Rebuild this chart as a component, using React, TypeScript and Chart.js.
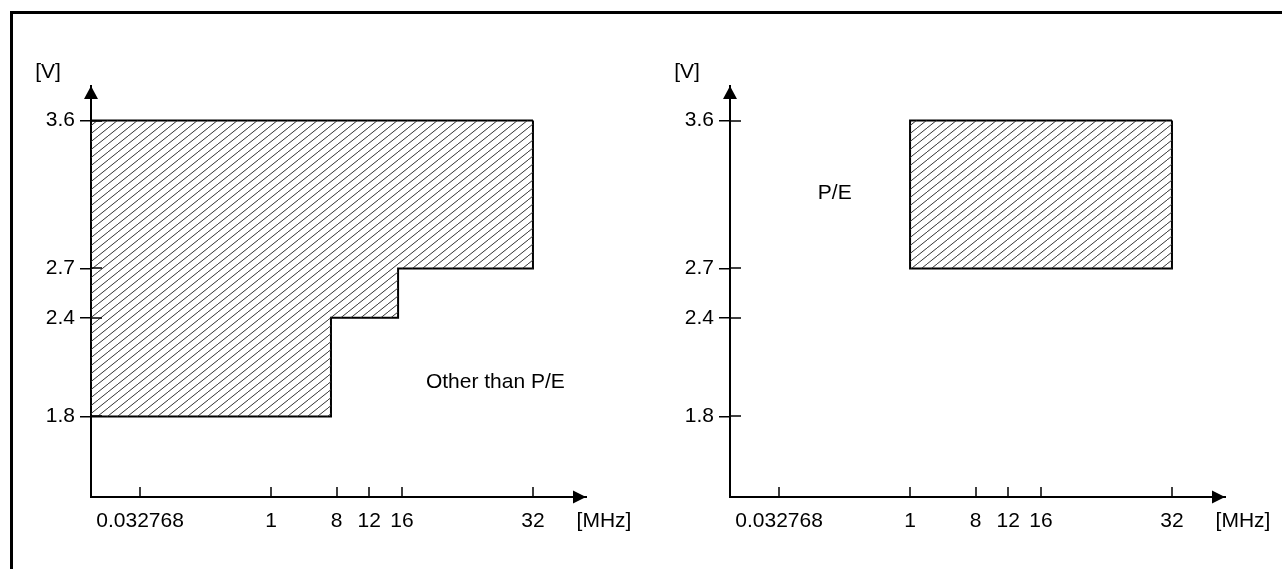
import React, { useEffect, useRef } from 'react';
import { Chart, registerables } from 'chart.js';

Chart.register(...registerables);

// ---- data ----
// The frequency axis of the diagram is not to scale: each tick has its own axis position.
const freqTickLabels = ['0.032768', '1', '8', '12', '16', '32'];
const freqTickPos = [0, 4, 6, 7, 8, 12];
const voltTicks = [1.8, 2.4, 2.7, 3.6];
const xAxisRange = [-1.5, 13.62];
const yAxisRange = [1.31, 3.81];

// Left diagram: operating area other than P/E (x = axis position, y = volts)
const otherAreaX = [12, 12, 7.88, 7.88, 5.83, 5.83, -1.5, -1.5];
const otherAreaV = [3.6, 2.7, 2.7, 2.4, 2.4, 1.8, 1.8, 3.6];
// Right diagram: P/E operating area
const peAreaX = [12, 12, 4, 4];
const peAreaV = [3.6, 2.7, 2.7, 3.6];

const otherNote = { text: 'Other than P/E', x: 8.73, v: 2.01, align: 'left' };
const peNote = { text: 'P/E', x: 1.7, v: 3.16, align: 'center' };
const xUnit = '[MHz]';
const yUnit = '[V]';

const FONT = "'Liberation Sans', Arial, Helvetica, sans-serif";
const FONT_SIZE = 21;

function makeHatch(ctx: CanvasRenderingContext2D) {
  const w = 10;
  const h = 8;
  const tile = document.createElement('canvas');
  tile.width = w;
  tile.height = h;
  const g = tile.getContext('2d')!;
  g.strokeStyle = '#333';
  g.lineWidth = 1;
  g.beginPath();
  for (const dx of [-w, 0, w]) {
    g.moveTo(dx, h);
    g.lineTo(dx + w, 0);
  }
  g.stroke();
  return ctx.createPattern(tile, 'repeat');
}

const decorPlugin = {
  id: 'diagramDecor',
  afterDraw(chart: any, _args: any, opts: any) {
    const { ctx, chartArea: a, scales } = chart;
    const xs = scales.x;
    const ys = scales.y;
    ctx.save();
    ctx.strokeStyle = '#000';
    ctx.fillStyle = '#000';
    ctx.lineWidth = 1.5;
    ctx.beginPath();
    for (const v of voltTicks) {
      const py = Math.round(ys.getPixelForValue(v));
      ctx.moveTo(a.left, py);
      ctx.lineTo(a.left + 11, py);
    }
    for (const p of freqTickPos) {
      const px = Math.round(xs.getPixelForValue(p));
      ctx.moveTo(px, a.bottom);
      ctx.lineTo(px, a.bottom - 10);
    }
    ctx.stroke();
    // arrow heads
    ctx.beginPath();
    ctx.moveTo(a.left, a.top);
    ctx.lineTo(a.left - 7, a.top + 13);
    ctx.lineTo(a.left + 7, a.top + 13);
    ctx.closePath();
    ctx.fill();
    ctx.beginPath();
    ctx.moveTo(a.right, a.bottom);
    ctx.lineTo(a.right - 13, a.bottom - 6.5);
    ctx.lineTo(a.right - 13, a.bottom + 6.5);
    ctx.closePath();
    ctx.fill();
    // units
    ctx.font = `${FONT_SIZE}px ${FONT}`;
    ctx.textBaseline = 'middle';
    ctx.textAlign = 'center';
    ctx.fillText(yUnit, a.left - 43, a.top - 14);
    ctx.fillText(xUnit, a.right + 18, a.bottom + 12 + FONT_SIZE * 0.6);
    // notes
    const n = opts.note;
    if (n) {
      ctx.textAlign = n.align;
      ctx.fillText(n.text, xs.getPixelForValue(n.x), ys.getPixelForValue(n.v));
    }
    ctx.restore();
  },
};

function Panel({ left, areaX, areaV, note }: any) {
  const ref = useRef<HTMLCanvasElement>(null);
  useEffect(() => {
    const canvas = ref.current!;
    const ctx = canvas.getContext('2d')!;
    const hatch = makeHatch(ctx);
    const pts = areaX.map((x: number, i: number) => ({ x, y: areaV[i] }));
    const closed = [...pts, pts[0]];
    const tickFont = { family: FONT, size: FONT_SIZE };
    const chart = new Chart(canvas, {
      type: 'line',
      data: {
        datasets: [
          {
            data: pts,
            fill: 'shape',
            backgroundColor: hatch as any,
            borderColor: 'rgba(0,0,0,0)',
            borderWidth: 0,
            pointRadius: 0,
            pointHoverRadius: 0,
            tension: 0,
          },
          {
            data: closed,
            fill: false,
            borderColor: '#000',
            borderWidth: 2,
            pointRadius: 0,
            pointHoverRadius: 0,
            tension: 0,
          },
        ],
      },
      options: {
        animation: false,
        responsive: false,
        events: [],
        layout: { padding: { top: 78, right: 58, left: 0, bottom: 0 } },
        plugins: {
          legend: { display: false },
          tooltip: { enabled: false },
          diagramDecor: { note },
        } as any,
        scales: {
          x: {
            type: 'linear',
            position: 'bottom',
            min: xAxisRange[0],
            max: xAxisRange[1],
            afterBuildTicks: (s: any) => {
              s.ticks = freqTickPos.map((p) => ({ value: p }));
            },
            afterFit: (s: any) => {
              s.height = 72;
            },
            border: { display: true, color: '#000', width: 2 },
            grid: { drawOnChartArea: false, drawTicks: false },
            ticks: {
              autoSkip: false,
              maxRotation: 0,
              minRotation: 0,
              padding: 12,
              color: '#000',
              font: tickFont,
              callback: (_v: any, i: number) => freqTickLabels[i],
            },
          },
          y: {
            type: 'linear',
            position: 'left',
            min: yAxisRange[0],
            max: yAxisRange[1],
            afterBuildTicks: (s: any) => {
              s.ticks = voltTicks.map((v) => ({ value: v }));
            },
            afterFit: (s: any) => {
              s.width = 83;
            },
            border: { display: true, color: '#000', width: 2 },
            grid: {
              drawOnChartArea: false,
              drawTicks: true,
              tickLength: 11,
              color: '#000',
              lineWidth: 1.5,
              tickWidth: 1.5,
            } as any,
            ticks: {
              padding: 5,
              color: '#000',
              font: tickFont,
              callback: (v: any) => Number(v).toFixed(1),
            },
          },
        },
      } as any,
      plugins: [decorPlugin],
    });
    return () => chart.destroy();
  }, []);
  return (
    <canvas
      ref={ref}
      width={636}
      height={561}
      style={{ position: 'absolute', left, top: 8, width: 636, height: 561, display: 'block' }}
    />
  );
}

export default function App() {
  return (
    <div
      style={{
        position: 'fixed',
        left: 0,
        top: 0,
        width: 1282,
        height: 569,
        overflow: 'hidden',
        background: '#fff',
      }}
    >
      <div
        style={{
          position: 'absolute',
          left: 10,
          top: 11,
          width: 1400,
          height: 700,
          borderTop: '3px solid #000',
          borderLeft: '3px solid #000',
        }}
      />
      <Panel left={8} areaX={otherAreaX} areaV={otherAreaV} note={otherNote} />
      <Panel left={647} areaX={peAreaX} areaV={peAreaV} note={peNote} />
    </div>
  );
}
